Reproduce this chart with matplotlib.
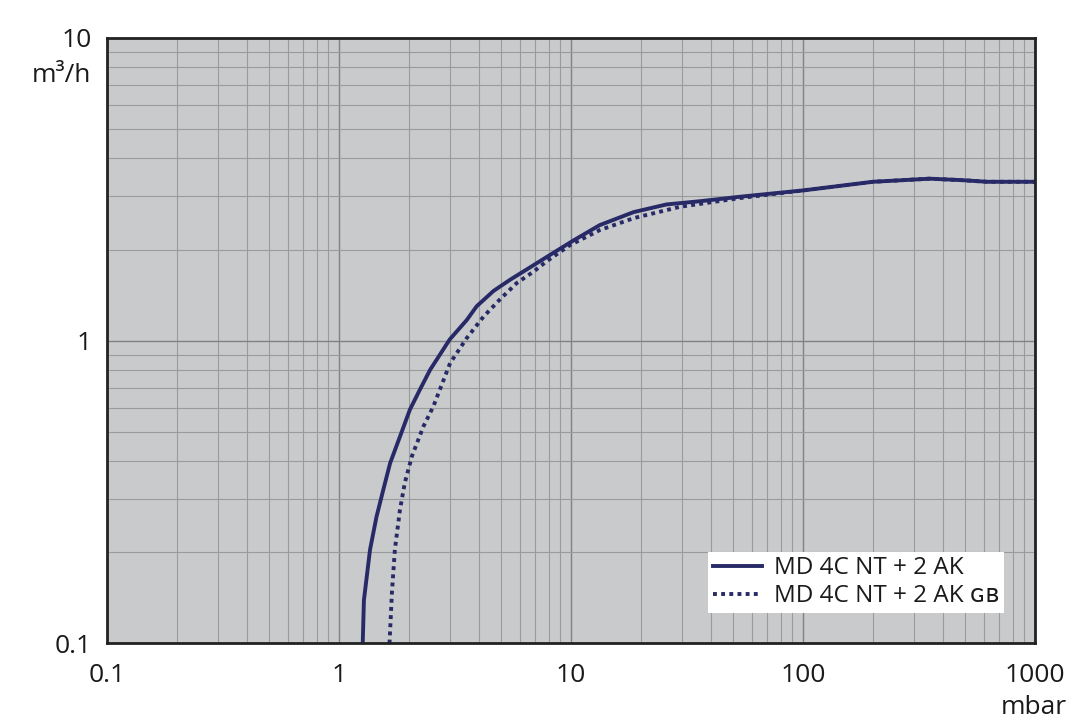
import numpy as np
import matplotlib.pyplot as plt
from matplotlib.ticker import LogLocator, NullFormatter, FixedLocator, FixedFormatter

plt.rcParams['font.family'] = ['Open Sans', 'DejaVu Sans']

# pumping speed curves (pressure in mbar, speed in m3/h)
p_std = [1.265, 1.28, 1.36, 1.45, 1.55, 1.66, 1.83, 2.02, 2.23, 2.47, 3.00,
         3.55, 3.92, 4.63, 5.46, 6.44, 8.11, 10.2, 13.3, 18.6, 25.8, 36.0,
         53.5, 101, 200, 352, 490, 621, 1000]
s_std = [0.1, 0.139, 0.204, 0.262, 0.321, 0.394, 0.482, 0.592, 0.689, 0.802,
         1.01, 1.17, 1.30, 1.46, 1.59, 1.72, 1.92, 2.14, 2.41, 2.66, 2.82,
         2.89, 2.99, 3.14, 3.35, 3.43, 3.39, 3.35, 3.35]

p_gb = [1.65, 1.69, 1.74, 1.83, 1.92, 2.06, 2.31, 2.55, 3.01, 3.55, 4.19, 4.94,
        5.83, 6.88, 7.85, 9.9, 13.3, 18.6, 29.5, 53.5, 101, 200, 352, 490,
        621, 1000]
s_gb = [0.1, 0.147, 0.204, 0.276, 0.339, 0.415, 0.521, 0.607, 0.843, 1.02,
        1.20, 1.37, 1.55, 1.69, 1.83, 2.07, 2.32, 2.54, 2.77, 2.96, 3.14, 3.35,
        3.43, 3.39, 3.35, 3.35]

labels = ['MD 4C NT + 2 AK', 'MD 4C NT + 2 AK \u0262\u0299']
x_ticks = [0.1, 1, 10, 100, 1000]
x_labels = ['0.1', '1', '10', '100', '1000']
y_ticks = [0.1, 1, 10]
y_labels = ['0.1', '1', '10']

line_color = '#272a66'
text_color = '#1a1a1a'
fsize = 19

fig = plt.figure(figsize=(10.8, 7.21), dpi=100)
ax = fig.add_axes([0.0991, 0.1075, 0.8593, 0.8398])
ax.set_facecolor('#c9cacc')

ax.plot(p_std, s_std, color=line_color, lw=2.8, label=labels[0])
ax.plot(p_gb, s_gb, color=line_color, lw=2.8, ls=(0, (1, 1.1)),
        dash_capstyle='butt', label=labels[1])

ax.set_xscale('log')
ax.set_yscale('log')
ax.set_xlim(0.1, 1000)
ax.set_ylim(0.1, 10)

ax.xaxis.set_major_locator(FixedLocator(x_ticks))
ax.xaxis.set_major_formatter(FixedFormatter(x_labels))
ax.yaxis.set_major_locator(FixedLocator(y_ticks))
ax.yaxis.set_major_formatter(FixedFormatter(y_labels))
ax.xaxis.set_minor_locator(LogLocator(base=10, subs=np.arange(2, 10)))
ax.yaxis.set_minor_locator(LogLocator(base=10, subs=np.arange(2, 10)))
ax.xaxis.set_minor_formatter(NullFormatter())
ax.yaxis.set_minor_formatter(NullFormatter())

ax.grid(which='major', color='#808183', lw=1.0)
ax.grid(which='minor', color='#9a9b9d', lw=0.8)
ax.set_axisbelow(True)

ax.tick_params(which='both', length=0, labelsize=fsize, colors=text_color)
ax.tick_params(axis='x', pad=14)
ax.tick_params(axis='y', pad=11)

for s in ax.spines.values():
    s.set_linewidth(2)
    s.set_color('#222222')

fig.text(91 / 1080, 1 - 75 / 721, 'm\u00b3/h', ha='right', va='center',
         fontsize=fsize, color=text_color)
fig.text(1034 / 1080, 1 - 708 / 721, 'mbar', ha='center', va='center',
         fontsize=fsize, color=text_color)

leg = ax.legend(loc='lower left', bbox_to_anchor=(0.6476, 0.0504),
                borderaxespad=0, fontsize=17.5, frameon=True, fancybox=False,
                framealpha=1, handlelength=2.0, handletextpad=0.5,
                labelspacing=0.15, borderpad=0.2)
leg.get_frame().set_facecolor('white')
leg.get_frame().set_edgecolor('none')
for t in leg.get_texts():
    t.set_color(text_color)

fig.savefig('out.png', dpi=100)
